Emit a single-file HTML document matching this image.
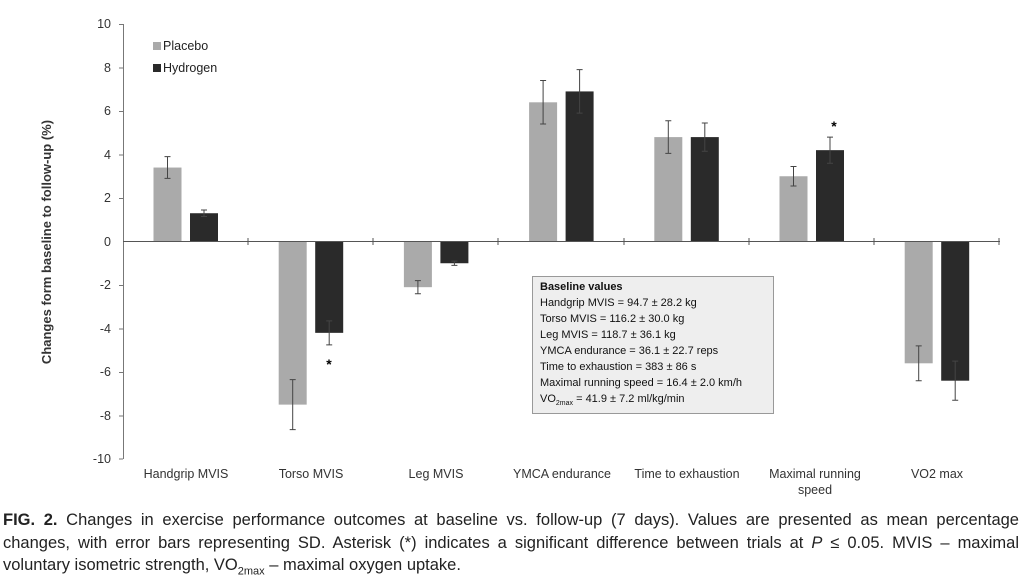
<!DOCTYPE html><html><head><style>body{margin:0;background:#fff;width:1024px;height:583px;overflow:hidden}
.cap{position:absolute;left:3px;top:509px;width:1016px;font:16.5px "Liberation Sans",sans-serif;color:#222;line-height:22.5px}
.cap div{white-space:nowrap}.j{text-align:justify;text-align-last:justify}</style></head><body>
<svg width="1024" height="505" style="position:absolute;left:0;top:0" font-family="Liberation Sans, sans-serif">
<g font-size="12.5" fill="#333" text-anchor="end">
<text x="111" y="28">10</text><text x="111" y="72">8</text><text x="111" y="115">6</text><text x="111" y="159">4</text><text x="111" y="202">2</text><text x="111" y="246">0</text><text x="111" y="289">-2</text><text x="111" y="333">-4</text><text x="111" y="376">-6</text><text x="111" y="420">-8</text><text x="111" y="463">-10</text></g>
<g stroke="#777" stroke-width="1"><line x1="123.5" y1="24" x2="123.5" y2="459"/>
<line x1="119" y1="24.5" x2="123" y2="24.5"/><line x1="119" y1="68" x2="123" y2="68"/><line x1="119" y1="111.5" x2="123" y2="111.5"/><line x1="119" y1="155" x2="123" y2="155"/><line x1="119" y1="198.5" x2="123" y2="198.5"/><line x1="119" y1="285.5" x2="123" y2="285.5"/><line x1="119" y1="329" x2="123" y2="329"/><line x1="119" y1="372.5" x2="123" y2="372.5"/><line x1="119" y1="416" x2="123" y2="416"/><line x1="119" y1="459" x2="123" y2="459"/></g>
<text transform="translate(51,242) rotate(-90)" text-anchor="middle" font-size="13" font-weight="bold" fill="#333">Changes form baseline to follow-up (%)</text>
<g id="bars"></g>
<line x1="123" y1="241.5" x2="1000" y2="241.5" stroke="#555"/>
<g stroke="#555"><line x1="248" y1="238" x2="248" y2="245"/><line x1="373" y1="238" x2="373" y2="245"/><line x1="498" y1="238" x2="498" y2="245"/><line x1="624" y1="238" x2="624" y2="245"/><line x1="749" y1="238" x2="749" y2="245"/><line x1="874" y1="238" x2="874" y2="245"/><line x1="999" y1="238" x2="999" y2="245"/></g>
<rect x="153" y="42" width="8" height="8" fill="#aaa"/><text x="163" y="50" font-size="12.5" fill="#222">Placebo</text>
<rect x="153" y="64" width="8" height="8" fill="#2a2a2a"/><text x="163" y="72" font-size="12.5" fill="#222">Hydrogen</text>
<text x="329" y="369" font-size="14" font-weight="bold" text-anchor="middle">*</text>
<text x="834" y="131" font-size="14" font-weight="bold" text-anchor="middle">*</text>
<g font-size="12.5" fill="#333" text-anchor="middle">
<text x="186" y="478">Handgrip MVIS</text><text x="311" y="478">Torso MVIS</text><text x="436" y="478">Leg MVIS</text><text x="562" y="478">YMCA endurance</text><text x="687" y="478">Time to exhaustion</text><text x="815" y="478">Maximal running</text><text x="815" y="494">speed</text><text x="937" y="478">VO2 max</text></g>
<rect x="532.5" y="276.5" width="241" height="137" fill="#eee" stroke="#999"/>
<g font-size="11" fill="#111"><text x="540" y="290" font-weight="bold">Baseline values</text>
<text x="540" y="306">Handgrip MVIS = 94.7 ± 28.2 kg</text><text x="540" y="322">Torso MVIS = 116.2 ± 30.0 kg</text><text x="540" y="338">Leg MVIS = 118.7 ± 36.1 kg</text><text x="540" y="354">YMCA endurance = 36.1 ± 22.7 reps</text><text x="540" y="370">Time to exhaustion = 383 ± 86 s</text><text x="540" y="386">Maximal running speed = 16.4 ± 2.0 km/h</text><text x="540" y="402">VO<tspan font-size="7" dy="3">2max</tspan><tspan dy="-3"> = 41.9 ± 7.2 ml/kg/min</tspan></text></g>
</svg>
<script>
var d=[[3.4,.5,1.3,.15],[-7.5,1.15,-4.2,.55],[-2.1,.3,-1.0,.1],[6.4,1.0,6.9,1.0],[4.8,.75,4.8,.65],[3.0,.45,4.2,.6],[-5.6,.8,-6.4,.9]];
var s='',z=241.5,k=21.75;
d.forEach(function(r,i){var c=185.5+i*125.2;[[r[0],r[1],c-32,'#aaa'],[r[2],r[3],c+4.5,'#2a2a2a']].forEach(function(b){var y=z-b[0]*k;s+='<rect x="'+b[2]+'" y="'+Math.min(y,z)+'" width="28" height="'+Math.abs(b[0]*k)+'" fill="'+b[3]+'"/>';var m=b[2]+14,t=y-b[1]*k,u=y+b[1]*k;s+='<path d="M'+m+' '+t+'V'+u+'M'+(m-3)+' '+t+'h6M'+(m-3)+' '+u+'h6" stroke="#444" fill="none"/>';});});
document.getElementById('bars').innerHTML=s;
</script>
<div class="cap"><div class="j" style="white-space:normal"><b>FIG. 2.</b> Changes in exercise performance outcomes at baseline vs. follow-up (7 days). Values are presented as mean percentage</div><div class="j" style="white-space:normal">changes, with error bars representing SD. Asterisk (*) indicates a significant difference between trials at <i>P</i> ≤ 0.05. MVIS – maximal</div><div>voluntary isometric strength, VO<sub style="font-size:11px">2max</sub> – maximal oxygen uptake.</div></div>
</body></html>
